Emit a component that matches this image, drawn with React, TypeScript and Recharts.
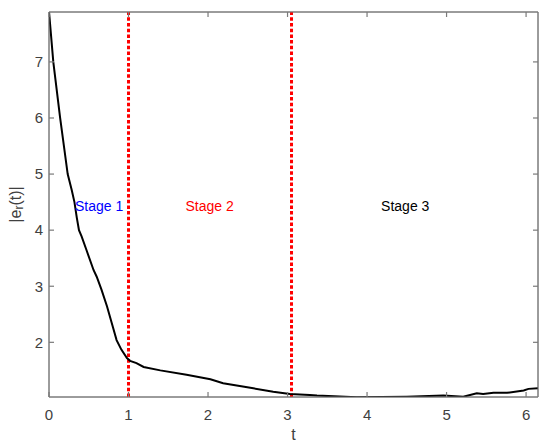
import React from 'react';
import { LineChart, Line, XAxis, YAxis, ReferenceLine, ReferenceDot, ReferenceArea, Label } from 'recharts';

// |e_r(t)|
const tValues = [0, 0.054, 0.14, 0.235, 0.285, 0.32, 0.35, 0.377, 0.41, 0.47, 0.56, 0.6, 0.66, 0.73, 0.79, 0.85, 0.91, 0.98, 1.02, 1.1, 1.19, 1.4, 1.73, 2.03, 2.19, 2.57, 2.82, 3.03, 3.28, 3.37, 3.87, 4.5, 4.96, 5.21, 5.38, 5.46, 5.59, 5.76, 5.97, 6.03, 6.15];
const errValues = [7.9, 7.0, 6.0, 5.0, 4.72, 4.5, 4.22, 4.0, 3.89, 3.65, 3.29, 3.17, 2.94, 2.64, 2.34, 2.04, 1.87, 1.72, 1.67, 1.63, 1.56, 1.5, 1.42, 1.34, 1.27, 1.18, 1.12, 1.08, 1.06, 1.05, 1.02, 1.03, 1.05, 1.03, 1.09, 1.08, 1.1, 1.1, 1.14, 1.17, 1.18];

const xTicks = [0, 1, 2, 3, 4, 5, 6];
const yTicks = [2, 3, 4, 5, 6, 7];
const xDomain = [0, 6.15];
const yDomain = [1.025, 7.89];
const stageBounds = [1, 3.05];

const stageNames = ['Stage 1', 'Stage 2', 'Stage 3'];
const stageColors = ['#0000ff', '#ff0000', '#000000'];
const stageT = [0.63, 2.02, 4.48];
const stageY = 4.43;

const data = tValues.map((t, i) => ({ t, e: errValues[i] }));

const FONT = '"Liberation Sans", Arial, sans-serif';
const AXIS = '#7a7a7a';
const TEXT = '#404040';
const TL = 5; // inward tick length

// custom ticks: label + inward tick mark (MATLAB box style)
const BottomTick = ({ x, y, payload }: any) => (
  <g>
    <line x1={x} x2={x} y1={y - 12} y2={y - 12 - TL} stroke={AXIS} strokeWidth={1.2} />
    <text x={x} y={y} dy="0.71em" textAnchor="middle" fill={TEXT} fontSize={15} fontFamily={FONT}>
      {payload.value}
    </text>
  </g>
);
const LeftTick = ({ x, y, payload }: any) => (
  <g>
    <line x1={x + 6} x2={x + 6 + TL} y1={y} y2={y} stroke={AXIS} strokeWidth={1.2} />
    <text x={x} y={y} dy="0.355em" textAnchor="end" fill={TEXT} fontSize={15} fontFamily={FONT}>
      {payload.value}
    </text>
  </g>
);
const TopTick = ({ x, y }: any) => <line x1={x} x2={x} y1={y} y2={y + TL} stroke={AXIS} strokeWidth={1.2} />;
const RightTick = ({ x, y }: any) => <line x1={x} x2={x - TL} y1={y} y2={y} stroke={AXIS} strokeWidth={1.2} />;

const YLabel = (props: any) => {
  const vb = props.viewBox || {};
  const x = 15;
  const y = vb.y != null && vb.height ? vb.y + vb.height / 2 : 204.5;
  return (
    <text
      x={x}
      y={y}
      transform={`rotate(-90, ${x}, ${y})`}
      textAnchor="middle"
      dominantBaseline="central"
      fill={TEXT}
      fontSize={16}
      fontFamily={FONT}
    >
      |e<tspan dy={4} fontSize={12}>r</tspan>
      <tspan dy={-4}>(t)|</tspan>
    </text>
  );
};

export default function App() {
  return (
    <div style={{ position: 'absolute', left: 0, top: 0, width: 550, height: 448, background: '#fff' }}>
      <LineChart width={550} height={448} data={data} margin={{ top: 11, right: 11, left: 0, bottom: 0 }}>
        <XAxis
          dataKey="t"
          type="number"
          domain={xDomain}
          ticks={xTicks}
          allowDataOverflow
          height={51}
          stroke={AXIS}
          tickLine={false}
          tickSize={0}
          tickMargin={12}
          tick={<BottomTick />}
        >
          <Label value="t" position="insideBottom" offset={8} fill={TEXT} fontSize={16} fontFamily={FONT} />
        </XAxis>
        <XAxis
          xAxisId="top"
          orientation="top"
          dataKey="t"
          type="number"
          domain={xDomain}
          ticks={xTicks}
          allowDataOverflow
          height={1}
          stroke={AXIS}
          tickLine={false}
          tickSize={0}
          tickMargin={0}
          tick={<TopTick />}
        />
        <YAxis
          type="number"
          domain={yDomain}
          ticks={yTicks}
          allowDataOverflow
          width={49}
          stroke={AXIS}
          tickLine={false}
          tickSize={0}
          tickMargin={6}
          tick={<LeftTick />}
          label={<YLabel />}
        />
        <YAxis
          yAxisId="right"
          orientation="right"
          type="number"
          domain={yDomain}
          ticks={yTicks}
          allowDataOverflow
          width={1}
          stroke={AXIS}
          tickLine={false}
          tickSize={0}
          tickMargin={0}
          tick={<RightTick />}
        />
        {/* plot box outline */}
        <ReferenceArea
          x1={xDomain[0]}
          x2={xDomain[1]}
          y1={yDomain[0]}
          y2={yDomain[1]}
          fill="none"
          fillOpacity={0}
          stroke={AXIS}
          strokeWidth={1}
          ifOverflow="visible"
        />
        {stageBounds.map((b) => (
          <ReferenceLine key={`s${b}`} x={b} stroke="#ff0000" strokeWidth={3} strokeDasharray="3.5 2.2" />
        ))}
        {/* invisible series so the top/right box axes get drawn */}
        <Line
          xAxisId="top"
          yAxisId="right"
          dataKey="e"
          stroke="none"
          dot={false}
          activeDot={false}
          legendType="none"
          isAnimationActive={false}
        />
        <Line
          dataKey="e"
          type="linear"
          stroke="#000000"
          strokeWidth={2}
          dot={false}
          isAnimationActive={false}
        />
        {stageNames.map((name, i) => (
          <ReferenceDot
            key={name}
            x={stageT[i]}
            y={stageY}
            r={0}
            fill="none"
            stroke="none"
            label={<Label value={name} position="center" fill={stageColors[i]} fontSize={14} fontFamily={FONT} />}
          />
        ))}
      </LineChart>
    </div>
  );
}
